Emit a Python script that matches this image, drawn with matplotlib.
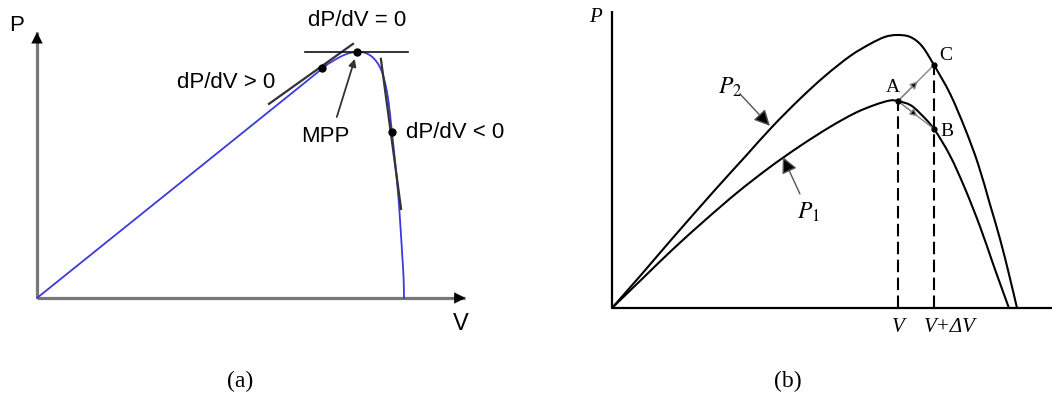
import matplotlib
matplotlib.use("Agg")
import matplotlib.pyplot as plt
from matplotlib.path import Path
from matplotlib.patches import PathPatch

# ---------------- data: panel (a) single P-V curve (normalised units) ----------------
va_curve = [0.0, 0.717, 0.777, 0.826, 0.853, 0.872, 0.891, 0.910, 0.926, 0.940,
            0.951, 0.959, 0.967, 0.975, 0.984, 0.989, 0.995, 0.999, 1.0]
pa_curve = [0.0, 0.860, 0.935, 0.980, 0.996, 1.0, 0.998, 0.984, 0.959, 0.919,
            0.858, 0.785, 0.675, 0.565, 0.423, 0.321, 0.179, 0.077, 0.0]
# operating points: left of MPP, MPP, right of MPP
va_points = [0.777, 0.872, 0.967]
pa_points = [0.935, 1.0, 0.675]
# tangent segments (start, end)
tan_left_v, tan_left_p = [0.632, 0.861], [0.789, 1.033]
tan_mpp_v, tan_mpp_p = [0.730, 1.011], [1.0, 1.0]
tan_right_v, tan_right_p = [0.937, 0.992], [0.972, 0.362]
labels_a = ["dP/dV = 0", "dP/dV > 0", "MPP", "dP/dV < 0"]

# ---------------- data: panel (b) two P-V curves (normalised units) ----------------
v_p2 = [0.0, 0.074, 0.148, 0.254, 0.328, 0.395, 0.464, 0.526, 0.588, 0.637, 0.674,
        0.704, 0.736, 0.765, 0.795, 0.835, 0.872, 0.904, 0.933, 0.958, 0.980, 1.0]
p_p2 = [0.0, 0.125, 0.253, 0.432, 0.553, 0.663, 0.766, 0.850, 0.923, 0.967, 0.993,
        1.0, 0.993, 0.960, 0.890, 0.784, 0.656, 0.527, 0.381, 0.253, 0.125, 0.0]
v_p1 = [0.0, 0.074, 0.148, 0.230, 0.311, 0.390, 0.464, 0.538, 0.600, 0.649, 0.686,
        0.706, 0.736, 0.760, 0.795, 0.835, 0.872, 0.909, 0.941, 0.963, 0.980]
p_p1 = [0.0, 0.106, 0.212, 0.322, 0.425, 0.516, 0.593, 0.663, 0.714, 0.744, 0.760,
        0.758, 0.744, 0.714, 0.656, 0.557, 0.436, 0.297, 0.161, 0.070, 0.0]
# operating points A (on P1 at V), B (on P1 at V+dV), C (on P2 at V+dV)
v_A, p_A = 0.706, 0.758
v_B, p_B = 0.795, 0.656
v_C, p_C = 0.795, 0.890
xticklabels_b = ["V", "V+\u0394V"]

W, H = 1052, 410
fig = plt.figure(figsize=(W / 100, H / 100), dpi=100)


def panel(box, origin, scale):
    """Axes covering a pixel box, with data (0,0) at origin and given px-per-unit."""
    x0, y0, x1, y1 = box
    ax = fig.add_axes([x0 / W, 1 - y1 / H, (x1 - x0) / W, (y1 - y0) / H])
    ox, oy = origin
    sx, sy = scale
    ax.set_xlim((x0 - ox) / sx, (x1 - ox) / sx)
    ax.set_ylim((oy - y1) / sy, (oy - y0) / sy)
    ax.axis("off")
    return ax


def smooth_curve(ax, xs, ys, **kw):
    """Draw a smooth Bezier curve through every (x, y) point (Catmull-Rom tangents)."""
    pts = list(zip(xs, ys))
    n = len(pts)
    verts = [pts[0]]
    codes = [Path.MOVETO]
    for i in range(n - 1):
        p0 = pts[i - 1] if i > 0 else pts[i]
        p1 = pts[i]
        p2 = pts[i + 1]
        p3 = pts[i + 2] if i + 2 < n else pts[i + 1]
        c1 = (p1[0] + (p2[0] - p0[0]) / 6, p1[1] + (p2[1] - p0[1]) / 6)
        c2 = (p2[0] - (p3[0] - p1[0]) / 6, p2[1] - (p3[1] - p1[1]) / 6)
        verts += [c1, c2, p2]
        codes += [Path.CURVE4] * 3
    ax.add_patch(PathPatch(Path(verts, codes), fill=False, capstyle="round",
                           joinstyle="round", **kw))


# ======================= panel (a) =======================
axa = panel((0, 0, 545, 345), (37, 299), (367, 246))
sans = "Liberation Sans"
axis_grey = "#777777"

# axes with arrow heads
axa.plot([0, 1.165], [0, 0], color=axis_grey, lw=2.3, solid_capstyle="butt", zorder=1)
axa.plot([0, 0], [0, 1.080], color=axis_grey, lw=2.3, solid_capstyle="butt", zorder=1)
axa.annotate("", xy=(1.175, 0), xytext=(1.12, 0),
             arrowprops=dict(arrowstyle="-|>", color="black", lw=0.1, mutation_scale=20))
axa.annotate("", xy=(0, 1.092), xytext=(0, 1.03),
             arrowprops=dict(arrowstyle="-|>", color="black", lw=0.1, mutation_scale=20))

smooth_curve(axa, va_curve, pa_curve, edgecolor="#3b3bdc", lw=1.3, zorder=3)

# tangents
axa.plot(tan_left_v, tan_left_p, color="#333333", lw=1.6, zorder=4)
axa.plot(tan_mpp_v, tan_mpp_p, color="#111111", lw=1.2, zorder=4)
axa.plot(tan_right_v, tan_right_p, color="#333333", lw=1.6, zorder=4)
axa.plot(va_points, pa_points, "o", color="black", ms=5, zorder=5)

# MPP pointer
axa.annotate("", xy=(0.866, 0.972), xytext=(0.817, 0.736),
             arrowprops=dict(arrowstyle="-|>", color="#333333", lw=1.3,
                             mutation_scale=11, shrinkA=0, shrinkB=0))

fs_a = 16
axa.text(0.872, 1.134, labels_a[0], fontsize=fs_a, family=sans, ha="center", va="center")
axa.text(0.515, 0.882, labels_a[1], fontsize=fs_a, family=sans, ha="center", va="center")
axa.text(0.785, 0.659, labels_a[2], fontsize=fs_a, family=sans, ha="center", va="center")
axa.text(1.005, 0.675, labels_a[3], fontsize=fs_a, family=sans, ha="left", va="center")
axa.text(-0.057, 1.110, "P", fontsize=fs_a, family=sans, ha="center", va="center")
axa.text(1.155, -0.102, "V", fontsize=fs_a + 1, family=sans, ha="center", va="center")

# ======================= panel (b) =======================
axb = panel((560, 0, 1052, 345), (612, 309), (405, 273))
serif = "Liberation Serif"

axb.plot([0, 1.09], [0, 0], color="black", lw=1.6, solid_capstyle="butt")
axb.plot([0, 0], [0, 1.088], color="black", lw=1.6, solid_capstyle="butt")

smooth_curve(axb, v_p2, p_p2, edgecolor="black", lw=1.5)
smooth_curve(axb, v_p1, p_p1, edgecolor="black", lw=1.5)

dash = (0, (6, 2.6))
axb.plot([v_A, v_A], [0, p_A], color="black", lw=1.5, ls=dash)
axb.plot([v_C, v_C], [0, p_C], color="black", lw=1.5, ls=dash)

axb.plot([v_A, v_B, v_C], [p_A, p_B, p_C], "o", color="black", ms=3.5, zorder=5)

# perturbation steps A->C and A->B
for (vx, py) in [(v_C, p_C), (v_B, p_B)]:
    axb.plot([v_A, vx], [p_A, py], color="#888888", lw=1.0, zorder=3)
    mv = v_A + 0.55 * (vx - v_A)
    mp = p_A + 0.55 * (py - p_A)
    axb.annotate("", xy=(mv, mp), xytext=(v_A, p_A),
                 arrowprops=dict(arrowstyle="-|>", fc="black", ec="#888888", lw=1.0,
                                 mutation_scale=11, shrinkA=0, shrinkB=0))

# curve pointers
axb.annotate("", xy=(0.390, 0.667), xytext=(0.316, 0.784),
             arrowprops=dict(arrowstyle="-|>", fc="black", ec="#555555", lw=1.0,
                             mutation_scale=24, shrinkA=0, shrinkB=0))
axb.annotate("", xy=(0.422, 0.553), xytext=(0.464, 0.418),
             arrowprops=dict(arrowstyle="-|>", fc="black", ec="#555555", lw=1.0,
                             mutation_scale=24, shrinkA=0, shrinkB=0))

axb.text(0.291, 0.812, "$P_2$", fontsize=17, family=serif, ha="center", va="center",
         math_fontfamily="stix")
axb.text(0.486, 0.355, "$P_1$", fontsize=17, family=serif, ha="center", va="center",
         math_fontfamily="stix")
axb.text(-0.042, 1.066, "P", fontsize=15, family=serif, style="italic", ha="center", va="center")
axb.text(0.694, 0.812, "A", fontsize=14, family=serif, ha="center", va="center")
axb.text(0.824, 0.930, "C", fontsize=14, family=serif, ha="center", va="center")
axb.text(0.828, 0.650, "B", fontsize=14, family=serif, ha="center", va="center")
axb.text(v_A, -0.066, xticklabels_b[0], fontsize=15, family=serif, style="italic",
         ha="center", va="center")
axb.text(v_C - 0.024, -0.066, xticklabels_b[1], fontsize=15, family=serif, style="italic",
         ha="left", va="center")

# panel captions
fig.text(240 / W, 1 - 381 / H, "(a)", fontsize=17, family=serif, ha="center", va="center")
fig.text(788 / W, 1 - 381 / H, "(b)", fontsize=17, family=serif, ha="center", va="center")

fig.savefig("out.png", dpi=100, facecolor="white")
